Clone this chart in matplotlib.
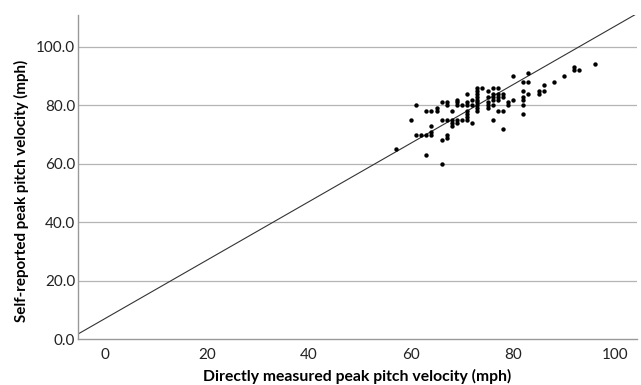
import numpy as np
import matplotlib.pyplot as plt

# Directly measured (x) vs self-reported (y) peak pitch velocity, mph
measured = [57, 63, 66, 60, 61,
            61, 62, 63, 64, 64, 64,
            63, 64, 65, 65,
            66, 67, 67, 68,
            66, 67, 68, 68, 68, 69,
            66, 67, 67,
            69, 69, 69, 70,
            71, 71, 71,
            69, 70,
            71, 71, 71, 71,
            72, 72, 72,
            73, 73, 73, 73, 73, 73, 73, 73, 73,
            74, 75, 75,
            75, 75, 75,
            76, 77, 76, 76, 76, 76, 76,
            77, 77, 77, 78, 78,
            77, 78, 78,
            79, 79,
            80, 80,
            82, 82, 82, 82, 82, 82,
            83, 83, 83,
            85, 85, 86, 86,
            88, 90, 92, 92, 93, 96]
self_reported = [65, 63, 60, 75, 80,
                 70, 70, 70, 70, 71, 73,
                 78, 78, 78, 79,
                 81, 81, 80, 78,
                 75, 75, 75, 74, 73, 74,
                 68, 70, 69,
                 82, 81, 80, 80,
                 84, 81, 80,
                 75, 75,
                 78, 77, 76, 75,
                 82, 80, 74,
                 86, 85, 84, 83, 82, 81, 80, 79, 78,
                 86, 85, 83,
                 81, 80, 79,
                 86, 86, 75, 82, 80, 84, 83,
                 84, 83, 82, 84, 83,
                 78, 78, 72,
                 81, 80,
                 90, 82,
                 88, 85, 83, 82, 80, 77,
                 91, 88, 84,
                 85, 84, 87, 85,
                 88, 90, 93, 92, 92, 94]

# fitted line
fit_slope = 1.0
fit_intercept = 7.1

xticks = [0, 20, 40, 60, 80, 100]
yticks = [0, 20, 40, 60, 80, 100]

plt.rcParams['font.family'] = ['Lato', 'DejaVu Sans']

fig = plt.figure(figsize=(6.41, 3.85), dpi=100)
ax = fig.add_axes([0.1217, 0.1187, 0.8721, 0.8423])

xmin, xmax = -5.3, 104.3
ax.set_xlim(xmin, xmax)
ax.set_ylim(0, 110.9)

for yt in yticks[1:]:
    ax.axhline(yt, color='#b4b4b4', lw=0.9, zorder=1)

xl = np.array([xmin, xmax])
ax.plot(xl, fit_slope * xl + fit_intercept, color='#333333', lw=0.8, zorder=2)

ax.scatter(measured, self_reported, s=10, color='black', zorder=3, linewidths=0)

ax.set_xticks(xticks)
ax.set_xticklabels([str(v) for v in xticks])
ax.set_yticks(yticks)
ax.set_yticklabels(['%.1f' % v for v in yticks])
ax.tick_params(length=0, labelsize=11, colors='#222222', pad=6)
ax.tick_params(axis='y', pad=2)

for side in ['top', 'right']:
    ax.spines[side].set_visible(False)
for side in ['left', 'bottom']:
    ax.spines[side].set_color('#999999')
    ax.spines[side].set_linewidth(1.0)

ax.set_xlabel('Directly measured peak pitch velocity (mph)', fontsize=11.3,
              fontweight='bold', labelpad=5)
ax.set_ylabel('Self-reported peak pitch velocity (mph)', fontsize=10.9,
              fontweight='bold')
ax.yaxis.set_label_coords(-0.088, 0.457)

fig.savefig('out.png', dpi=100)
